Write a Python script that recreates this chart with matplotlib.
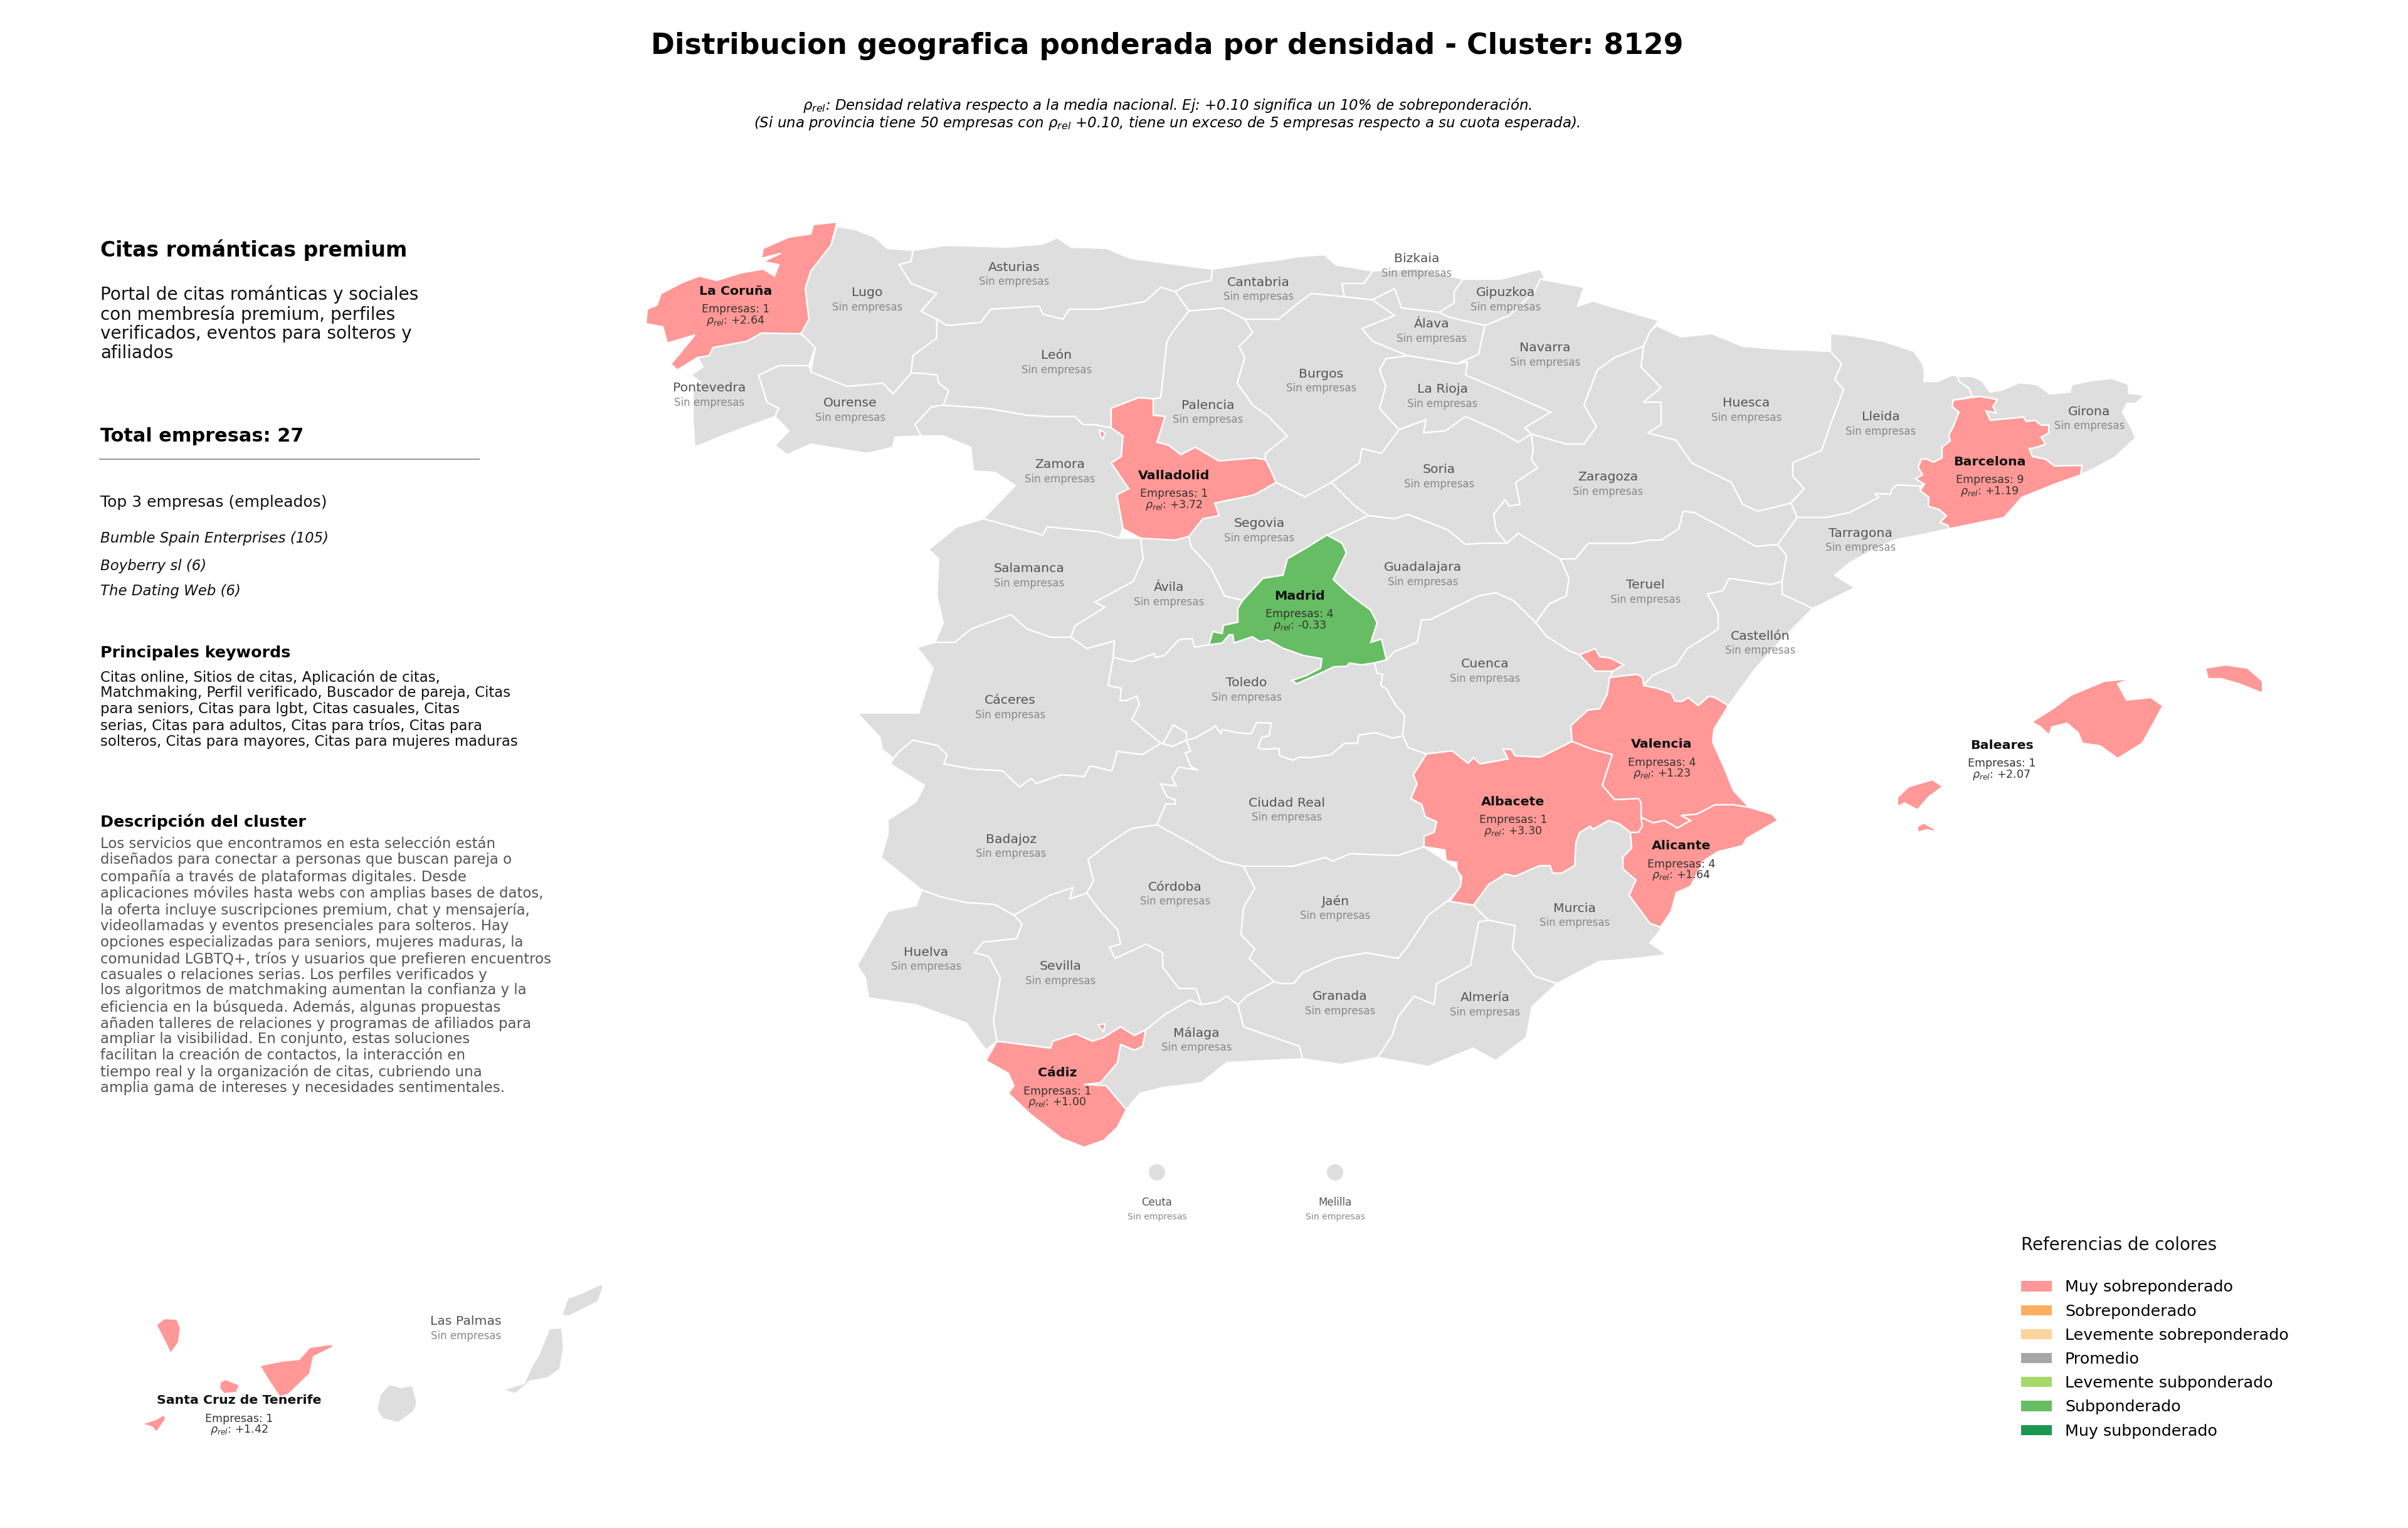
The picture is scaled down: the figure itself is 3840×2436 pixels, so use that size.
import matplotlib
matplotlib.use("Agg")
import matplotlib.pyplot as plt
from matplotlib.patches import Patch, Polygon, Circle

plt.rcParams["font.family"] = "DejaVu Sans"
plt.rcParams["mathtext.fontset"] = "dejavusans"

# provincias con empresas
PROV_ACTIVE = ["La Coruña", "Valladolid", "Madrid", "Barcelona", "Valencia", "Albacete",
               "Alicante", "Cádiz", "Baleares", "Santa Cruz de Tenerife"]
EMPRESAS = [1, 1, 4, 9, 4, 1, 4, 1, 1, 1]
RHO_REL = [2.64, 3.72, -0.33, 1.19, 1.23, 3.30, 1.64, 1.00, 2.07, 1.42]

TOP3 = ["Bumble Spain Enterprises (105)", "Boyberry sl (6)", "The Dating Web (6)"]

LEGEND_LABELS = ["Muy sobreponderado", "Sobreponderado", "Levemente sobreponderado", "Promedio",
                 "Levemente subponderado", "Subponderado", "Muy subponderado"]
LEGEND_COLORS = ["#ff9896", "#fdae61", "#fdd49e", "#a6a6a6", "#a6d96a", "#66bd63", "#1a9850"]

EMPTY_COLOR = "#dedede"

# contornos, en pixeles
SHAPES = {
    "La Coruña": [[(1335, 354), (1297, 358), (1293, 373), (1258, 378), (1217, 396), (1214, 412), (1245, 404),
                   (1217, 417), (1242, 422), (1235, 440), (1217, 429), (1182, 435), (1143, 447), (1115, 440),
                   (1089, 450), (1054, 468), (1048, 486), (1032, 493), (1030, 516), (1057, 521), (1064, 547),
                   (1108, 534), (1083, 565), (1070, 580), (1080, 590), (1112, 570), (1131, 567), (1137, 554),
                   (1191, 544), (1214, 531), (1277, 532), (1290, 509), (1284, 460), (1293, 432), (1325, 391)]],
    "Lugo": [[(1335, 361), (1364, 366), (1395, 378), (1415, 396), (1456, 399), (1453, 417), (1434, 422),
              (1453, 452), (1494, 468), (1469, 496), (1494, 509), (1494, 539), (1456, 567), (1453, 595),
              (1424, 628), (1408, 611), (1351, 616), (1293, 593), (1300, 554), (1277, 532), (1290, 509),
              (1284, 460), (1293, 432), (1325, 391)]],
    "Asturias": [[(1456, 399), (1510, 391), (1606, 394), (1663, 389), (1686, 379), (1708, 394), (1765, 396),
                  (1803, 412), (1855, 419), (1934, 429), (1931, 447), (1893, 455), (1874, 465), (1851, 458),
                  (1826, 481), (1753, 493), (1705, 493), (1695, 509), (1663, 501), (1657, 488), (1580, 493),
                  (1564, 514), (1510, 519), (1494, 509), (1469, 496), (1494, 468), (1453, 452), (1434, 422),
                  (1453, 417)]],
    "Cantabria": [[(1934, 429), (2000, 419), (2042, 414), (2070, 409), (2112, 406), (2130, 422), (2189, 432),
                   (2175, 452), (2140, 452), (2144, 473), (2091, 468), (2067, 486), (2039, 509), (1985, 509),
                   (1950, 491), (1896, 496), (1874, 465), (1893, 455), (1931, 447)]],
    "León": [[(1494, 509), (1510, 519), (1564, 514), (1580, 493), (1657, 488), (1663, 501), (1695, 509),
              (1705, 493), (1753, 493), (1826, 481), (1851, 458), (1874, 465), (1896, 496), (1870, 529),
              (1861, 544), (1851, 634), (1839, 636), (1816, 634), (1772, 651), (1772, 682), (1746, 677),
              (1727, 677), (1714, 664), (1670, 664), (1638, 662), (1574, 651), (1504, 646), (1513, 623),
              (1497, 611), (1494, 598), (1469, 595), (1453, 595), (1456, 567), (1494, 539)]],
    "Pontevedra": [[(1277, 532), (1214, 531), (1191, 544), (1137, 554), (1131, 567), (1112, 570), (1121, 585),
                    (1102, 598), (1118, 610), (1105, 625), (1105, 669), (1108, 713), (1159, 692), (1236, 664),
                    (1242, 651), (1223, 641), (1210, 598), (1242, 583), (1290, 583), (1300, 554)]],
    "Ourense": [[(1210, 598), (1242, 583), (1290, 583), (1293, 593), (1351, 616), (1408, 611), (1424, 628),
                 (1453, 595), (1469, 595), (1494, 598), (1497, 611), (1513, 623), (1504, 646), (1485, 649),
                 (1459, 677), (1469, 695), (1427, 697), (1424, 713), (1383, 723), (1293, 708), (1255, 725),
                 (1236, 710), (1258, 687), (1236, 664), (1242, 651), (1223, 641)]],
    "Zamora": [[(1504, 646), (1574, 651), (1638, 662), (1670, 664), (1714, 664), (1727, 677), (1746, 677),
                (1772, 682), (1791, 695), (1788, 728), (1772, 738), (1800, 779), (1781, 789), (1791, 843),
                (1784, 858), (1753, 848), (1670, 840), (1663, 853), (1568, 827), (1619, 774), (1587, 753),
                (1552, 751), (1548, 713), (1504, 695), (1469, 695), (1459, 677), (1485, 649)]],
    "Palencia": [[(1896, 496), (1950, 491), (1985, 509), (1998, 530), (1976, 552), (1985, 570), (1973, 611),
                  (1998, 646), (2021, 662), (2053, 695), (2018, 723), (2018, 733), (2000, 730), (1944, 735),
                  (1906, 713), (1883, 725), (1864, 710), (1845, 705), (1858, 664), (1839, 662), (1839, 636),
                  (1851, 634), (1861, 544), (1870, 529)]],
    "Valladolid": [[(1772, 651), (1816, 634), (1839, 636), (1839, 662), (1858, 664), (1845, 705), (1864, 710),
                    (1883, 725), (1906, 713), (1944, 735), (2000, 730), (2018, 733), (2028, 753), (2035, 769),
                    (2000, 789), (1937, 802), (1944, 822), (1918, 827), (1896, 855), (1874, 861), (1819, 858),
                    (1791, 843), (1781, 789), (1800, 779), (1772, 738), (1788, 728), (1791, 695), (1772, 682)],
                   [(1753, 685), (1762, 690), (1759, 700), (1755, 695)]],
    "Salamanca": [[(1568, 827), (1663, 853), (1670, 840), (1753, 848), (1784, 858), (1819, 858), (1823, 891),
                   (1807, 927), (1746, 960), (1762, 968), (1714, 998), (1708, 1016), (1676, 1016), (1638, 1003),
                   (1612, 980), (1548, 1003), (1523, 1024), (1491, 1024), (1504, 993), (1494, 950), (1497, 891),
                   (1481, 876), (1526, 840)]],
    "Ávila": [[(1819, 858), (1874, 861), (1896, 855), (1899, 871), (1931, 906), (1953, 950), (1982, 957),
               (1974, 970), (1974, 992), (1951, 997), (1949, 1010), (1934, 1007), (1928, 1028), (1905, 1032),
               (1901, 1018), (1880, 1020), (1857, 1045), (1842, 1048), (1840, 1042), (1805, 1055), (1775, 1048),
               (1777, 1022), (1733, 1034), (1708, 1016), (1714, 998), (1762, 968), (1746, 960), (1807, 927),
               (1823, 891)]],
    "Segovia": [[(1944, 822), (1937, 802), (2000, 789), (2035, 769), (2081, 792), (2123, 769), (2158, 804),
                 (2182, 822), (2144, 840), (2116, 853), (2084, 873), (2053, 891), (2046, 917), (2014, 922),
                 (1982, 957), (1953, 950), (1931, 906), (1899, 871), (1896, 855), (1918, 827)]],
    "Madrid": [[(2116, 853), (2140, 866), (2147, 881), (2126, 924), (2151, 947), (2186, 973), (2196, 993),
                (2186, 1024), (2203, 1019), (2211, 1052), (2190, 1057), (2171, 1060), (2152, 1057), (2148, 1062),
                (2127, 1063), (2102, 1075), (2079, 1085), (2068, 1090), (2060, 1085), (2083, 1077), (2106, 1065),
                (2108, 1050), (2079, 1045), (2045, 1033), (2022, 1020), (2010, 1023), (1997, 1015), (1968, 1025),
                (1966, 1012), (1960, 1012), (1949, 1025), (1928, 1028), (1934, 1007), (1949, 1010), (1951, 997),
                (1974, 992), (1974, 970), (1982, 957), (2014, 922), (2046, 917), (2053, 891), (2084, 873)]],
    "Burgos": [[(1985, 509), (2039, 509), (2067, 486), (2091, 468), (2144, 473), (2189, 478), (2224, 503),
                (2172, 524), (2189, 544), (2245, 567), (2210, 572), (2200, 590), (2210, 616), (2200, 651),
                (2231, 685), (2203, 723), (2172, 715), (2168, 738), (2123, 769), (2081, 792), (2035, 769),
                (2028, 753), (2018, 733), (2018, 723), (2053, 695), (2021, 662), (1998, 646), (1973, 611),
                (1985, 570), (1976, 552), (1998, 530)]],
    "Bizkaia": [[(2189, 432), (2260, 428), (2333, 445), (2319, 465), (2319, 483), (2295, 498), (2235, 491),
                 (2224, 460), (2189, 478), (2144, 473), (2140, 452), (2175, 452)]],
    "Gipuzkoa": [[(2333, 445), (2393, 445), (2456, 429), (2463, 442), (2447, 465), (2407, 503), (2368, 519),
                  (2312, 506), (2295, 498), (2319, 483), (2319, 465)]],
    "Álava": [[(2189, 478), (2224, 460), (2235, 491), (2295, 498), (2312, 506), (2368, 519), (2358, 565),
               (2323, 580), (2245, 567), (2189, 544), (2172, 524), (2224, 503)]],
    "Navarra": [[(2456, 445), (2526, 458), (2516, 488), (2540, 480), (2645, 511), (2631, 529), (2621, 552),
                 (2575, 570), (2547, 590), (2526, 646), (2546, 680), (2526, 708), (2498, 708), (2442, 692),
                 (2431, 682), (2473, 657), (2396, 623), (2337, 598), (2340, 577), (2323, 580), (2358, 565),
                 (2368, 519), (2407, 503), (2447, 465)]],
    "La Rioja": [[(2210, 572), (2245, 567), (2323, 580), (2340, 577), (2337, 598), (2396, 623), (2473, 657),
                  (2431, 682), (2442, 692), (2421, 705), (2389, 687), (2337, 664), (2305, 687), (2270, 690),
                  (2274, 669), (2231, 685), (2200, 651), (2210, 616), (2200, 590)]],
    "Soria": [[(2231, 685), (2274, 669), (2270, 690), (2305, 687), (2337, 664), (2389, 687), (2421, 705),
               (2442, 692), (2445, 718), (2442, 733), (2452, 746), (2417, 769), (2424, 804), (2407, 807),
               (2400, 797), (2382, 820), (2386, 845), (2403, 866), (2365, 866), (2337, 868), (2309, 845),
               (2245, 820), (2224, 827), (2182, 822), (2158, 804), (2123, 769), (2168, 738), (2172, 715),
               (2203, 723)]],
    "Guadalajara": [[(2182, 822), (2224, 827), (2245, 820), (2309, 845), (2337, 868), (2365, 866), (2403, 866),
                     (2421, 850), (2488, 891), (2502, 922), (2498, 950), (2470, 963), (2449, 993), (2414, 958),
                     (2386, 945), (2358, 950), (2337, 960), (2281, 988), (2267, 988), (2260, 1024), (2224, 1039),
                     (2211, 1052), (2203, 1019), (2186, 1024), (2196, 993), (2186, 973), (2151, 947), (2126, 924),
                     (2147, 881), (2140, 866), (2116, 853), (2144, 840)]],
    "Toledo": [[(1775, 1048), (1805, 1055), (1840, 1042), (1842, 1048), (1857, 1045), (1880, 1020), (1901, 1018),
                (1905, 1032), (1928, 1028), (1949, 1025), (1960, 1012), (1966, 1012), (1968, 1025), (1997, 1015),
                (2010, 1023), (2022, 1020), (2045, 1033), (2079, 1045), (2108, 1050), (2106, 1065), (2083, 1077),
                (2060, 1085), (2068, 1090), (2079, 1085), (2102, 1075), (2127, 1063), (2148, 1062), (2152, 1057),
                (2171, 1060), (2192, 1057), (2196, 1073), (2205, 1075), (2202, 1093), (2211, 1098), (2225, 1123),
                (2240, 1140), (2237, 1173), (2221, 1177), (2194, 1168), (2167, 1172), (2165, 1185), (2144, 1185),
                (2123, 1203), (2089, 1208), (2073, 1207), (2062, 1212), (2041, 1205), (2039, 1193), (2014, 1195),
                (2006, 1192), (2012, 1175), (2024, 1173), (2027, 1153), (2004, 1152), (1995, 1170), (1972, 1168),
                (1949, 1163), (1947, 1170), (1938, 1157), (1930, 1163), (1905, 1177), (1892, 1180), (1892, 1168),
                (1871, 1156), (1855, 1185), (1851, 1185), (1805, 1147), (1817, 1123), (1813, 1110), (1796, 1117),
                (1786, 1117), (1788, 1097), (1767, 1093)],
               [(1855, 1185), (1871, 1156), (1892, 1168), (1892, 1180), (1869, 1190)]],
    "Cuenca": [[(2211, 1052), (2224, 1039), (2260, 1024), (2267, 988), (2281, 988), (2337, 960), (2358, 950),
                (2386, 945), (2414, 958), (2449, 993), (2466, 1014), (2502, 1037), (2519, 1044), (2544, 1070),
                (2572, 1070), (2567, 1080), (2563, 1107), (2551, 1130), (2532, 1132), (2505, 1157), (2507, 1182),
                (2457, 1207), (2416, 1205), (2410, 1195), (2397, 1194), (2405, 1210), (2360, 1218), (2350, 1208),
                (2341, 1217), (2316, 1197), (2275, 1202), (2246, 1192), (2237, 1173), (2240, 1140), (2225, 1123),
                (2211, 1098), (2202, 1093), (2205, 1075), (2196, 1073), (2192, 1057)]],
    "Teruel": [[(2488, 891), (2512, 891), (2533, 866), (2603, 866), (2631, 861), (2649, 861), (2677, 843),
                (2684, 815), (2702, 817), (2754, 845), (2800, 871), (2835, 868), (2849, 886), (2842, 927),
                (2824, 932), (2758, 922), (2747, 942), (2723, 947), (2740, 978), (2740, 1003), (2691, 1034),
                (2673, 1060), (2635, 1077), (2621, 1093), (2619, 1080), (2611, 1075), (2567, 1080), (2572, 1070),
                (2589, 1060), (2568, 1049), (2551, 1047), (2544, 1034), (2519, 1044), (2502, 1037), (2466, 1014),
                (2449, 993), (2470, 963), (2498, 950), (2502, 922)]],
    "Castellón": [[(2621, 1093), (2635, 1077), (2673, 1060), (2691, 1034), (2740, 1003), (2740, 978), (2723, 947),
                   (2747, 942), (2758, 922), (2824, 932), (2842, 927), (2842, 947), (2891, 970), (2842, 1019),
                   (2800, 1065), (2756, 1125), (2735, 1112), (2725, 1110), (2708, 1125), (2692, 1112), (2683, 1118),
                   (2671, 1118), (2665, 1105), (2642, 1097)]],
    "Zaragoza": [[(2621, 552), (2617, 585), (2649, 618), (2621, 641), (2649, 641), (2649, 677), (2628, 690),
                  (2673, 702), (2698, 738), (2761, 769), (2779, 804), (2803, 815), (2856, 802), (2866, 825),
                  (2835, 868), (2800, 871), (2754, 845), (2702, 817), (2684, 815), (2677, 843), (2649, 861),
                  (2631, 861), (2603, 866), (2533, 866), (2512, 891), (2488, 891), (2421, 850), (2403, 866),
                  (2386, 845), (2382, 820), (2400, 797), (2407, 807), (2424, 804), (2417, 769), (2452, 746),
                  (2442, 733), (2445, 718), (2442, 692), (2498, 708), (2526, 708), (2546, 680), (2526, 646),
                  (2547, 590), (2575, 570)]],
    "Huesca": [[(2642, 519), (2680, 537), (2730, 532), (2779, 552), (2842, 557), (2919, 560), (2937, 580),
                (2926, 605), (2940, 621), (2919, 677), (2905, 718), (2859, 738), (2859, 759), (2877, 779),
                (2856, 802), (2803, 815), (2779, 804), (2761, 769), (2698, 738), (2673, 702), (2628, 690),
                (2649, 677), (2649, 641), (2621, 641), (2649, 618), (2617, 585), (2621, 552), (2631, 529)]],
    "Lleida": [[(2919, 532), (2947, 534), (3003, 544), (3052, 560), (3066, 580), (3069, 593), (3068, 608),
                (3090, 608), (3113, 598), (3122, 600), (3124, 608), (3141, 620), (3145, 632), (3115, 638),
                (3113, 648), (3124, 657), (3115, 680), (3108, 693), (3110, 703), (3097, 713), (3097, 730),
                (3083, 737), (3073, 732), (3064, 732), (3059, 745), (3066, 757), (3055, 763), (3069, 772),
                (3062, 775), (3025, 773), (3017, 780), (3015, 788), (2990, 787), (2996, 793), (2950, 817),
                (2912, 825), (2866, 825), (2856, 802), (2877, 779), (2859, 759), (2859, 738), (2905, 718),
                (2919, 677), (2940, 621), (2926, 605), (2937, 580), (2919, 560)]],
    "Girona": [[(3122, 600), (3146, 600), (3160, 607), (3174, 625), (3192, 622), (3220, 610), (3248, 613),
                (3269, 628), (3301, 625), (3304, 613), (3336, 607), (3367, 603), (3394, 613), (3395, 627),
                (3420, 630), (3406, 643), (3392, 643), (3385, 657), (3399, 683), (3406, 698), (3371, 730),
                (3339, 747), (3318, 757), (3320, 742), (3276, 743), (3262, 732), (3241, 728), (3236, 715),
                (3248, 713), (3262, 708), (3255, 697), (3267, 690), (3267, 678), (3255, 678), (3245, 670),
                (3231, 672), (3227, 665), (3196, 668), (3174, 670), (3167, 655), (3183, 658), (3178, 648),
                (3185, 637), (3157, 632), (3145, 632), (3141, 620), (3124, 608)]],
    "Barcelona": [[(3115, 638), (3157, 632), (3185, 637), (3178, 648), (3183, 658), (3167, 655), (3174, 670),
                   (3196, 668), (3227, 665), (3231, 672), (3245, 670), (3255, 678), (3267, 678), (3267, 690),
                   (3255, 697), (3262, 708), (3248, 713), (3236, 715), (3241, 728), (3262, 732), (3276, 743),
                   (3320, 742), (3318, 757), (3276, 772), (3224, 793), (3196, 825), (3108, 843), (3106, 837),
                   (3094, 833), (3104, 822), (3092, 812), (3075, 807), (3076, 793), (3062, 782), (3069, 772),
                   (3055, 763), (3066, 757), (3059, 745), (3064, 732), (3073, 732), (3083, 737), (3097, 730),
                   (3097, 713), (3110, 703), (3108, 693), (3115, 680), (3124, 657), (3113, 648)]],
    "Tarragona": [[(2835, 868), (2866, 825), (2912, 825), (2950, 817), (2996, 793), (2990, 787), (3015, 788),
                   (3017, 780), (3025, 773), (3062, 775), (3062, 782), (3076, 793), (3075, 807), (3092, 812),
                   (3104, 822), (3094, 833), (3106, 837), (3108, 843), (3062, 853), (3024, 860), (2990, 875),
                   (2950, 897), (2926, 917), (2958, 937), (2891, 970), (2842, 947), (2842, 927), (2849, 886)]],
    "Valencia": [[(2567, 1080), (2611, 1075), (2619, 1080), (2621, 1093), (2642, 1097), (2665, 1105), (2671, 1118),
                  (2683, 1118), (2692, 1112), (2708, 1125), (2725, 1110), (2735, 1112), (2756, 1125), (2733, 1163),
                  (2731, 1183), (2750, 1225), (2764, 1260), (2789, 1287), (2764, 1283), (2735, 1283), (2706, 1298),
                  (2681, 1300), (2696, 1308), (2675, 1320), (2654, 1308), (2636, 1312), (2617, 1303), (2617, 1280),
                  (2613, 1273), (2575, 1275), (2555, 1252), (2571, 1203), (2540, 1195), (2507, 1182), (2505, 1157),
                  (2532, 1132), (2551, 1130), (2563, 1107)],
                 [(2519, 1044), (2544, 1034), (2551, 1047), (2568, 1049), (2589, 1060), (2572, 1070), (2544, 1070)]],
    "Albacete": [[(2275, 1202), (2316, 1197), (2341, 1217), (2350, 1208), (2360, 1218), (2405, 1210), (2397, 1194),
                  (2410, 1195), (2416, 1205), (2457, 1207), (2507, 1182), (2540, 1195), (2571, 1203), (2555, 1252),
                  (2575, 1275), (2613, 1273), (2617, 1280), (2617, 1303), (2619, 1317), (2613, 1327), (2600, 1327),
                  (2582, 1313), (2565, 1308), (2540, 1322), (2536, 1317), (2519, 1327), (2513, 1343), (2511, 1380),
                  (2490, 1392), (2476, 1392), (2472, 1380), (2455, 1380), (2416, 1397), (2401, 1393), (2374, 1410),
                  (2350, 1443), (2312, 1437), (2329, 1413), (2331, 1398), (2323, 1387), (2323, 1375), (2306, 1372),
                  (2304, 1355), (2271, 1350), (2271, 1333), (2287, 1327), (2291, 1310), (2273, 1302), (2267, 1282),
                  (2250, 1273), (2260, 1250), (2254, 1235)]],
    "Alicante": [[(2789, 1287), (2826, 1298), (2835, 1308), (2814, 1320), (2785, 1337), (2779, 1348), (2739, 1358),
                  (2716, 1373), (2696, 1413), (2673, 1423), (2665, 1453), (2648, 1478), (2631, 1472), (2598, 1427),
                  (2609, 1403), (2588, 1385), (2588, 1367), (2602, 1352), (2600, 1327), (2613, 1327), (2619, 1317),
                  (2617, 1303), (2636, 1312), (2654, 1308), (2675, 1320), (2696, 1308), (2681, 1300), (2706, 1298),
                  (2735, 1283), (2764, 1283)]],
    "Murcia": [[(2350, 1443), (2374, 1410), (2401, 1393), (2416, 1397), (2455, 1380), (2472, 1380), (2476, 1392),
                (2490, 1392), (2511, 1380), (2513, 1343), (2519, 1327), (2536, 1317), (2540, 1322), (2565, 1308),
                (2582, 1313), (2600, 1327), (2602, 1352), (2588, 1367), (2588, 1385), (2609, 1403), (2598, 1427),
                (2631, 1472), (2648, 1478), (2648, 1483), (2631, 1503), (2658, 1522), (2608, 1528), (2550, 1533),
                (2483, 1568), (2447, 1556), (2412, 1513), (2416, 1476), (2374, 1467), (2358, 1452)]],
    "Cáceres": [[(1462, 1032), (1491, 1024), (1523, 1024), (1548, 1003), (1612, 980), (1638, 1003), (1676, 1016),
                 (1708, 1016), (1733, 1034), (1777, 1022), (1775, 1048), (1767, 1093), (1788, 1097), (1786, 1117),
                 (1796, 1117), (1813, 1110), (1817, 1123), (1805, 1147), (1851, 1185), (1822, 1203), (1782, 1198),
                 (1773, 1229), (1738, 1221), (1729, 1238), (1693, 1235), (1653, 1249), (1644, 1241), (1626, 1255),
                 (1599, 1229), (1550, 1226), (1505, 1218), (1510, 1203), (1496, 1189), (1456, 1180), (1434, 1198),
                 (1425, 1209), (1407, 1195), (1403, 1175), (1367, 1137), (1465, 1137), (1488, 1065)]],
    "Badajoz": [[(1425, 1209), (1434, 1198), (1456, 1180), (1496, 1189), (1510, 1203), (1505, 1218), (1550, 1226),
                 (1599, 1229), (1626, 1255), (1644, 1241), (1653, 1249), (1693, 1235), (1729, 1238), (1738, 1221),
                 (1773, 1229), (1782, 1198), (1822, 1203), (1851, 1185), (1869, 1190), (1892, 1180), (1899, 1198),
                 (1890, 1200), (1899, 1222), (1911, 1228), (1880, 1223), (1869, 1240), (1876, 1253), (1851, 1250),
                 (1861, 1270), (1874, 1275), (1874, 1282), (1859, 1282), (1845, 1315), (1804, 1321), (1769, 1344),
                 (1735, 1370), (1744, 1404), (1733, 1424), (1706, 1433), (1711, 1415), (1675, 1427), (1617, 1459),
                 (1586, 1442), (1541, 1439), (1501, 1430), (1470, 1419), (1405, 1367), (1416, 1330), (1416, 1307),
                 (1461, 1278), (1474, 1252), (1420, 1218)]],
    "Ciudad Real": [[(1892, 1180), (1905, 1177), (1930, 1163), (1938, 1157), (1947, 1170), (1949, 1163), (1972, 1168),
                     (1995, 1170), (2004, 1152), (2027, 1153), (2024, 1173), (2012, 1175), (2006, 1192), (2014, 1195),
                     (2039, 1193), (2041, 1205), (2062, 1212), (2073, 1207), (2089, 1208), (2123, 1203), (2144, 1185),
                     (2165, 1185), (2167, 1172), (2194, 1168), (2221, 1177), (2237, 1173), (2246, 1192), (2275, 1202),
                     (2254, 1235), (2260, 1250), (2250, 1273), (2267, 1282), (2273, 1302), (2291, 1310), (2287, 1327),
                     (2271, 1333), (2271, 1350), (2229, 1364), (2153, 1361), (2126, 1373), (2113, 1367), (2063, 1381),
                     (1983, 1381), (1947, 1373), (1898, 1344), (1845, 1315), (1859, 1282), (1874, 1282), (1874, 1275),
                     (1861, 1270), (1851, 1250), (1876, 1253), (1869, 1240), (1880, 1223), (1911, 1228), (1899, 1222),
                     (1890, 1200), (1899, 1198)]],
    "Córdoba": [[(1845, 1315), (1898, 1344), (1947, 1373), (1983, 1381), (2001, 1416), (1983, 1447), (1979, 1490),
                 (2001, 1513), (1992, 1528), (2032, 1565), (1988, 1588), (1974, 1602), (1956, 1588), (1943, 1597),
                 (1916, 1602), (1907, 1576), (1880, 1576), (1854, 1542), (1854, 1519), (1827, 1505), (1818, 1510),
                 (1778, 1528), (1769, 1510), (1787, 1505), (1782, 1482), (1755, 1453), (1733, 1424), (1744, 1404),
                 (1735, 1370), (1769, 1344), (1804, 1321)]],
    "Jaén": [[(1983, 1381), (2063, 1381), (2113, 1367), (2126, 1373), (2153, 1361), (2229, 1364), (2271, 1350),
              (2327, 1387), (2331, 1413), (2309, 1436), (2278, 1459), (2242, 1513), (2229, 1528), (2179, 1519),
              (2130, 1528), (2077, 1551), (2063, 1568), (2041, 1568), (2032, 1565), (1992, 1528), (2001, 1513),
              (1979, 1490), (1983, 1447), (2001, 1416)]],
    "Granada": [[(2032, 1565), (2041, 1568), (2063, 1568), (2077, 1551), (2130, 1528), (2179, 1519), (2229, 1528),
                 (2242, 1513), (2278, 1459), (2309, 1436), (2312, 1437), (2350, 1443), (2358, 1452), (2374, 1467),
                 (2358, 1470), (2345, 1539), (2291, 1568), (2287, 1602), (2255, 1588), (2229, 1622), (2220, 1651),
                 (2197, 1686), (2139, 1697), (2077, 1688), (2072, 1668), (2014, 1648), (1983, 1637), (1974, 1602),
                 (1988, 1588)]],
    "Almería": [[(2358, 1470), (2374, 1467), (2416, 1476), (2412, 1513), (2447, 1556), (2483, 1568), (2443, 1605),
                 (2434, 1654), (2385, 1691), (2349, 1671), (2278, 1700), (2197, 1686), (2220, 1651), (2229, 1622),
                 (2255, 1588), (2287, 1602), (2291, 1568), (2345, 1539)]],
    "Málaga": [[(1827, 1642), (1858, 1617), (1898, 1594), (1916, 1602), (1943, 1597), (1956, 1588), (1974, 1602),
                (1983, 1637), (2014, 1648), (2072, 1668), (2077, 1688), (1956, 1694), (1916, 1726), (1854, 1734),
                (1818, 1743), (1796, 1769), (1764, 1731), (1729, 1729), (1755, 1726), (1782, 1694), (1787, 1665),
                (1809, 1674), (1822, 1668)]],
    "Cádiz": [[(1590, 1660), (1675, 1671), (1679, 1660), (1715, 1648), (1742, 1660), (1760, 1654), (1787, 1637),
               (1809, 1651), (1827, 1642), (1822, 1668), (1809, 1674), (1787, 1665), (1782, 1694), (1755, 1726),
               (1729, 1729), (1764, 1731), (1796, 1769), (1782, 1797), (1760, 1818), (1729, 1829), (1693, 1815),
               (1644, 1777), (1608, 1743), (1617, 1731), (1608, 1711), (1572, 1691)],
              [(1751, 1634), (1762, 1632), (1760, 1645), (1756, 1640)]],
    "Sevilla": [[(1617, 1459), (1675, 1427), (1711, 1415), (1706, 1433), (1733, 1424), (1755, 1453), (1782, 1482),
                 (1787, 1505), (1769, 1510), (1778, 1528), (1818, 1510), (1827, 1505), (1854, 1519), (1854, 1542),
                 (1880, 1576), (1907, 1576), (1916, 1602), (1898, 1594), (1858, 1617), (1827, 1642), (1809, 1651),
                 (1787, 1637), (1760, 1654), (1742, 1660), (1715, 1648), (1679, 1660), (1675, 1671), (1590, 1660),
                 (1584, 1628), (1590, 1591), (1595, 1559), (1577, 1525), (1554, 1519), (1568, 1502), (1621, 1496),
                 (1630, 1473)]],
    "Huelva": [[(1470, 1419), (1501, 1430), (1541, 1439), (1586, 1442), (1617, 1459), (1630, 1473), (1621, 1496),
                (1568, 1502), (1554, 1519), (1577, 1525), (1595, 1559), (1590, 1591), (1584, 1628), (1590, 1660),
                (1572, 1674), (1541, 1631), (1461, 1602), (1385, 1591), (1380, 1559), (1367, 1539), (1416, 1453),
                (1461, 1444)]],
    "Baleares": [[(3240, 1151), (3275, 1129), (3303, 1108), (3356, 1086), (3398, 1082), (3377, 1090), (3391, 1116),
                  (3430, 1112), (3449, 1125), (3433, 1155), (3416, 1185), (3377, 1209), (3349, 1189), (3321, 1185),
                  (3314, 1168), (3296, 1153), (3272, 1159), (3268, 1172), (3254, 1159)],
                 [(3517, 1065), (3549, 1060), (3584, 1065), (3608, 1086), (3608, 1105), (3570, 1090), (3542, 1082),
                  (3521, 1082)],
                 [(3026, 1271), (3044, 1254), (3082, 1243), (3098, 1254), (3075, 1271), (3058, 1291), (3037, 1280),
                  (3026, 1286)],
                 [(3058, 1317), (3068, 1312), (3093, 1326), (3072, 1323), (3058, 1327)]],
    "Santa Cruz de Tenerife": [[(249, 2112), (262, 2102), (282, 2103), (288, 2117), (285, 2140), (272, 2158), (262, 2137)],
                               [(414, 2177), (449, 2170), (477, 2167), (494, 2148), (529, 2143), (532, 2147), (500, 2163),
                                (494, 2190), (460, 2223), (446, 2227), (428, 2200)],
                               [(351, 2203), (360, 2199), (382, 2208), (377, 2220), (357, 2222), (350, 2213)],
                               [(226, 2270), (248, 2263), (262, 2255), (264, 2263), (250, 2283), (242, 2275)]],
    "Las Palmas": [[(621, 2207), (640, 2212), (658, 2208), (665, 2237), (660, 2250), (635, 2268), (610, 2262), (601, 2247),
                    (606, 2223)],
                   [(876, 2118), (896, 2117), (899, 2147), (893, 2183), (873, 2197), (845, 2202), (822, 2222),
                    (802, 2216), (836, 2205), (847, 2180), (859, 2160)],
                   [(896, 2097), (905, 2070), (931, 2060), (959, 2047), (962, 2052), (954, 2075), (928, 2088),
                    (908, 2098)]],
}

# Ceuta y Melilla se dibujan como circulos
CITY_NAMES = ["Ceuta", "Melilla"]
CITY_X = [1845, 2129]
CITY_Y = [1869, 1869]

# posicion del nombre de cada provincia
LABEL_POS = {
    "La Coruña": (1173, 464), "Lugo": (1383, 467), "Asturias": (1617, 426), "León": (1685, 567),
    "Pontevedra": (1131, 619), "Ourense": (1356, 643), "Zamora": (1690, 741), "Palencia": (1926, 646),
    "Valladolid": (1872, 758), "Salamanca": (1641, 907), "Ávila": (1864, 937), "Cáceres": (1611, 1117),
    "Cantabria": (2007, 450), "Bizkaia": (2259, 413), "Gipuzkoa": (2401, 467), "Álava": (2283, 517),
    "Navarra": (2464, 555), "Burgos": (2107, 596), "La Rioja": (2300, 621), "Huesca": (2785, 643),
    "Lleida": (2999, 665), "Soria": (2295, 749), "Zaragoza": (2564, 761), "Segovia": (2008, 835),
    "Tarragona": (2967, 850), "Guadalajara": (2269, 905), "Teruel": (2624, 933), "Madrid": (2072, 950),
    "Castellón": (2807, 1014), "Cuenca": (2368, 1059), "Toledo": (1988, 1089), "Ciudad Real": (2052, 1280),
    "Albacete": (2413, 1278), "Valencia": (2650, 1187), "Alicante": (2681, 1349), "Murcia": (2511, 1448),
    "Barcelona": (3173, 736), "Girona": (3332, 656), "Badajoz": (1612, 1338), "Córdoba": (1874, 1414),
    "Jaén": (2129, 1437), "Huelva": (1477, 1518), "Sevilla": (1691, 1541), "Granada": (2137, 1589),
    "Almería": (2368, 1591), "Málaga": (1908, 1647), "Cádiz": (1686, 1711), "Baleares": (3192, 1188),
    "Santa Cruz de Tenerife": (381, 2233), "Las Palmas": (743, 2107), "Ceuta": (1845, 1917), "Melilla": (2129, 1917),
}

INTRO_LINES = ["Portal de citas románticas y sociales", "con membresía premium, perfiles",
               "verificados, eventos para solteros y", "afiliados"]
INTRO_Y = [469, 501, 532, 563]

KEYWORD_LINES = ["Citas online, Sitios de citas, Aplicación de citas,",
                 "Matchmaking, Perfil verificado, Buscador de pareja, Citas",
                 "para seniors, Citas para lgbt, Citas casuales, Citas",
                 "serias, Citas para adultos, Citas para tríos, Citas para",
                 "solteros, Citas para mayores, Citas para mujeres maduras"]
KEYWORD_Y = [1080, 1105, 1131, 1157, 1183]

DESC_LINES = ["Los servicios que encontramos en esta selección están",
              "diseñados para conectar a personas que buscan pareja o",
              "compañía a través de plataformas digitales. Desde",
              "aplicaciones móviles hasta webs con amplias bases de datos,",
              "la oferta incluye suscripciones premium, chat y mensajería,",
              "videollamadas y eventos presenciales para solteros. Hay",
              "opciones especializadas para seniors, mujeres maduras, la",
              "comunidad LGBTQ+, tríos y usuarios que prefieren encuentros",
              "casuales o relaciones serias. Los perfiles verificados y",
              "los algoritmos de matchmaking aumentan la confianza y la",
              "eficiencia en la búsqueda. Además, algunas propuestas",
              "añaden talleres de relaciones y programas de afiliados para",
              "ampliar la visibilidad. En conjunto, estas soluciones",
              "facilitan la creación de contactos, la interacción en",
              "tiempo real y la organización de citas, cubriendo una",
              "amplia gama de intereses y necesidades sentimentales."]
DESC_Y = [1345, 1371, 1398, 1424, 1451, 1477, 1503, 1529, 1554, 1579, 1606, 1632, 1657, 1682, 1709, 1735]


def color_for(rho):
    if rho >= 1.0:
        return LEGEND_COLORS[0]
    if rho <= -0.5:
        return LEGEND_COLORS[6]
    return LEGEND_COLORS[5]


fig = plt.figure(figsize=(16, 10.15), dpi=240)
ax = fig.add_axes([0, 0, 1, 1])
ax.set_xlim(0, 3840)
ax.set_ylim(2436, 0)
ax.axis("off")

active = dict(zip(PROV_ACTIVE, zip(EMPRESAS, RHO_REL)))

# primero las vacias, luego las coloreadas encima
order = [p for p in SHAPES if p not in active] + [p for p in SHAPES if p in active]
for prov in order:
    color = color_for(active[prov][1]) if prov in active else EMPTY_COLOR
    for ring in SHAPES[prov]:
        ax.add_patch(Polygon(ring, closed=True, facecolor=color, edgecolor="white", linewidth=0.7))

for cx, cy in zip(CITY_X, CITY_Y):
    ax.add_patch(Circle((cx, cy), 13, facecolor=EMPTY_COLOR, edgecolor="none"))

for prov, (x, y) in LABEL_POS.items():
    small = prov in CITY_NAMES
    if prov in active:
        n, rho = active[prov]
        ax.text(x, y, prov, ha="center", va="center", fontsize=6.15, fontweight="bold", color="#111111")
        ax.text(x, y + 29, f"Empresas: {n}", ha="center", va="center", fontsize=5.25, color="#333333")
        ax.text(x, y + 47, r"$\rho_{rel}$: " + f"{rho:+.2f}", ha="center", va="center", fontsize=5.25, color="#333333")
    else:
        ax.text(x, y, prov, ha="center", va="center", fontsize=5 if small else 6.1, color="#555555")
        ax.text(x, y + 23, "Sin empresas", ha="center", va="center", fontsize=4.2 if small else 5, color="#888888")

# titulos
ax.text(1861, 73, "Distribucion geografica ponderada por densidad - Cluster: 8129",
        ha="center", va="center", fontsize=13.7, fontweight="bold", color="black")
ax.text(1861, 168, r"$\rho_{rel}$: Densidad relativa respecto a la media nacional. Ej: +0.10 significa un 10% de sobreponderación.",
        ha="center", va="center", fontsize=6.85, style="italic")
ax.text(1861, 197, r"(Si una provincia tiene 50 empresas con $\rho_{rel}$ +0.10, tiene un exceso de 5 empresas respecto a su cuota esperada).",
        ha="center", va="center", fontsize=6.85, style="italic")

# panel izquierdo
LEFT = 160
ax.text(LEFT, 399, "Citas románticas premium", va="center", fontsize=9.9, fontweight="bold")
for line, y in zip(INTRO_LINES, INTRO_Y):
    ax.text(LEFT, y, line, va="center", fontsize=8.35, color="#111111")
ax.text(LEFT, 696, "Total empresas: 27", va="center", fontsize=9.1, fontweight="bold")
ax.plot([159, 764], [732, 732], color="#999999", lw=0.6)
ax.text(LEFT, 801, "Top 3 empresas (empleados)", va="center", fontsize=7.5, color="#111111")
for name, y in zip(TOP3, [859, 902, 943]):
    ax.text(LEFT, y, name, va="center", fontsize=6.85, style="italic", color="#111111")
ax.text(LEFT, 1041, "Principales keywords", va="center", fontsize=7.6, fontweight="bold")
for line, y in zip(KEYWORD_LINES, KEYWORD_Y):
    ax.text(LEFT, y, line, va="center", fontsize=6.86, color="#111111")
ax.text(LEFT, 1310, "Descripción del cluster", va="center", fontsize=7.6, fontweight="bold")
for line, y in zip(DESC_LINES, DESC_Y):
    ax.text(LEFT, y, line, va="center", fontsize=6.86, color="#555555")

handles = [Patch(facecolor=c, edgecolor="none", label=l) for c, l in zip(LEGEND_COLORS, LEGEND_LABELS)]
leg = ax.legend(handles=handles, title="Referencias de colores", loc="upper left",
                bbox_to_anchor=(3200 / 3840, 1 - 1948 / 2436), frameon=False, fontsize=7.6,
                title_fontsize=8.3, alignment="left", labelspacing=0.56, handlelength=1.94,
                handleheight=0.6, handletextpad=0.83)
leg.get_title().set_color("#111111")
leg._legend_box.sep = 12.5

fig.savefig("out.png", dpi=240, facecolor="white")
